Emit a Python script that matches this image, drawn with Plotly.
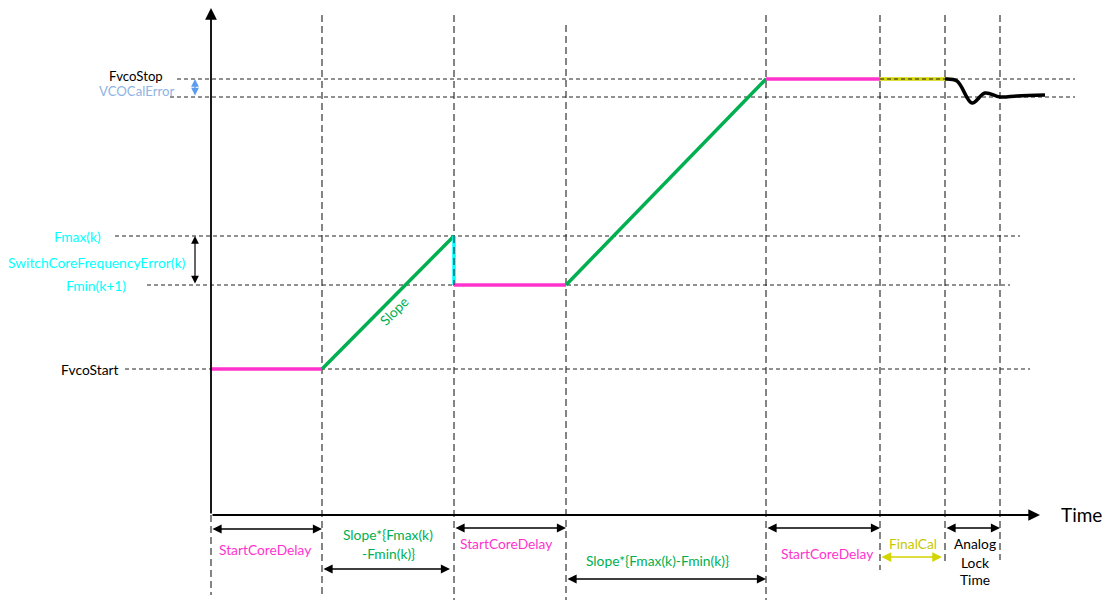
import plotly.graph_objects as go

# ---- data (time units & frequency units) ----
t_events = [0, 111, 243, 355, 555, 669, 734, 789]   # phase boundaries
f_start, f_min, f_max, f_stop, f_stop_low = 146, 230, 279, 436, 418

# settling curve during analog lock
lock_t = [734, 746, 761, 774, 789, 806, 834]
lock_f = [436, 434, 412, 422, 418, 419, 420]

# horizontal reference levels: (level, t_from, t_to)
h_levels = [(f_stop, -34, 864), (f_stop_low, -41, 864), (f_max, -96, 809),
            (f_min, -64, 799), (f_start, -86, 819)]
# vertical guides: (t, f_top, f_bottom)
v_guides = [(0, 0, -80), (111, 500, -82), (243, 500, -85), (355, 490, -85),
            (555, 500, -85), (669, 500, -55), (734, 500, -50), (789, 500, -45)]

MAG = "#FF33CC"; GRN = "#00B050"; CYN = "#00FFFF"; YEL = "#D4D400"
FONT = "Lato"
FS = 13.8
DASH_C = "#222222"

fig = go.Figure()

# guide lines
for lv, a, b in h_levels:
    fig.add_trace(go.Scatter(x=[a, b], y=[lv, lv], mode="lines",
                             line=dict(color=DASH_C, width=1, dash="4px,3px"),
                             hoverinfo="skip", showlegend=False))
for t, ft, fb in v_guides:
    fig.add_trace(go.Scatter(x=[t, t], y=[ft, fb], mode="lines",
                             line=dict(color=DASH_C, width=1.1, dash="7px,4px"),
                             hoverinfo="skip", showlegend=False))

T = t_events
def seg(xs, ys, color, w=3.5, **kw):
    fig.add_trace(go.Scatter(x=xs, y=ys, mode="lines", line=dict(color=color, width=w, **kw),
                             hoverinfo="skip", showlegend=False))

# signal
seg([T[0], T[1]], [f_start, f_start], MAG)
seg([T[1], T[2]], [f_start, f_max], GRN)
seg([T[2], T[2]], [f_max, f_min], CYN)
seg([T[2], T[3]], [f_min, f_min], MAG)
seg([T[3], T[4]], [f_min, f_stop], GRN)
seg([T[4], T[5]], [f_stop, f_stop], MAG)
seg([T[5], T[6]], [f_stop, f_stop], YEL)
seg(lock_t, lock_f, "black", 3.5, shape="spline", smoothing=1.0)
# dashed overlays on cyan / yellow
seg([T[2], T[2]], [f_max, f_min], DASH_C, 1, dash="7px,4px")
seg([T[5], T[6]], [f_stop, f_stop], DASH_C, 1, dash="4px,3px")

ann = []
def arrow(x0, y0, x1, y1, color="black", both=True, w=1.4):
    ann.append(dict(x=x1, y=y1, ax=x0, ay=y0, xref="x", yref="y", axref="x", ayref="y",
                    text="", showarrow=True, arrowhead=2, startarrowhead=2,
                    arrowside="end+start" if both else "end", arrowsize=1.3,
                    startarrowsize=1.3, arrowwidth=w, arrowcolor=color,
                    standoff=0, startstandoff=0))
def label(x, y, s, color="black", size=FS, xanchor="center", angle=0):
    ann.append(dict(x=x, y=y, xref="x", yref="y", text=s, showarrow=False,
                    font=dict(family=FONT, size=size, color=color),
                    xanchor=xanchor, yanchor="middle", textangle=angle))

# axes
arrow(0, 0, 829, 0, both=False, w=1.8)
arrow(0, 0, 0, 507, both=False, w=1.8)
label(870, 1, "Time", size=19)

# left labels
label(-46, 439.5, "FvcoStop", xanchor="right", size=13.2)
label(-35, 424.5, "VCOCalError", "#8EB4E3", xanchor="right", size=13.2)
arrow(-16, f_stop_low, -16, f_stop, "#5B9BF0", w=1.2)
label(-108, f_max, "Fmax(k)", CYN, xanchor="right")
label(-115, 253, "SwitchCoreFrequencyError(k)", CYN)
label(-83, f_min, "Fmin(k+1)", CYN, xanchor="right")
arrow(-16, f_min, -16, f_max, w=1.2)
label(-90, f_start, "FvcoStart", xanchor="right")
label(182, 204, "Slope", GRN, angle=-45)

# bottom durations
arrow(T[0], -14, T[1], -14); label(54, -34, "StartCoreDelay", MAG)
label(177, -19, "Slope*{Fmax(k)", GRN); label(177, -38, "-Fmin(k)}", GRN)
arrow(T[1], -54, 239, -54)
arrow(T[2], -13, T[3], -13); label(295, -28, "StartCoreDelay", MAG)
label(446, -45, "Slope*{Fmax(k)-Fmin(k)}", GRN)
arrow(T[3], -64, T[4], -64)
arrow(T[4], -13, T[5], -13); label(616, -38, "StartCoreDelay", MAG)
label(702, -28, "FinalCal", "#C8C800")
arrow(T[5], -42, 731, -42, YEL, w=1.5)
arrow(T[6], -13, T[7], -13)
label(764, -28, "Analog"); label(764, -47, "Lock"); label(764, -64, "Time")

# page has an 8px body margin: figure sized/ranged so t=0,f=0 lands at page (211,515)
fig.update_layout(
    width=1108, height=595, margin=dict(l=0, r=0, t=0, b=0),
    paper_bgcolor="white", plot_bgcolor="white",
    xaxis=dict(range=[-203, 905], visible=False, fixedrange=True),
    yaxis=dict(range=[-88, 507], visible=False, fixedrange=True),
    annotations=ann, showlegend=False,
)
fig.write_html("out.html")
